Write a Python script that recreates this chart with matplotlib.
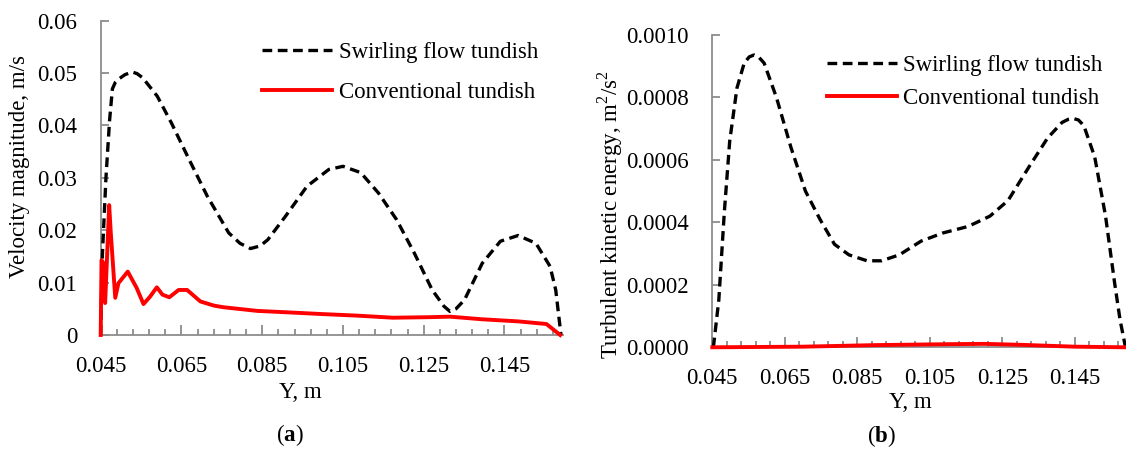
import numpy as np
import matplotlib
matplotlib.use("Agg")
import matplotlib.pyplot as plt
from matplotlib.ticker import MultipleLocator, FixedLocator, FuncFormatter

plt.rcParams['font.family'] = ['Liberation Serif', 'DejaVu Serif']
plt.rcParams['mathtext.fontset'] = 'custom'
plt.rcParams['mathtext.rm'] = 'Liberation Serif'
plt.rcParams['mathtext.bf'] = 'Liberation Serif:bold'
plt.rcParams['lines.scale_dashes'] = False

###Velocity magnitude, swirling flow tundish
y_swirl_v = [0.045, 0.0454, 0.0463, 0.0472, 0.0479, 0.0486, 0.0497, 0.051, 0.0528, 0.054,
             0.0554, 0.059, 0.0625, 0.0669, 0.0714, 0.0767, 0.0795, 0.0821, 0.0845, 0.0864,
             0.0908, 0.0961, 0.1015, 0.105, 0.1094, 0.1138, 0.1183, 0.1227, 0.1271, 0.1300,
             0.1315, 0.1330, 0.1351, 0.1395, 0.144, 0.1484, 0.1528, 0.1563, 0.1577, 0.159]
v_swirl = [0.0, 0.015, 0.030, 0.041, 0.0470, 0.0482, 0.0490, 0.0497, 0.0502, 0.0499,
           0.0491, 0.0456, 0.0405, 0.0335, 0.0265, 0.0195, 0.0175, 0.0165, 0.0170, 0.0182,
           0.0227, 0.0284, 0.0316, 0.0322, 0.031, 0.0271, 0.022, 0.0156, 0.0086, 0.0055,
           0.0045, 0.0050, 0.0067, 0.0137, 0.0179, 0.019, 0.0175, 0.0131, 0.0086, 0.0]

###Velocity magnitude, conventional tundish
y_conv_v = [0.045, 0.0452, 0.0457, 0.0461, 0.0471, 0.0475, 0.0486, 0.0494, 0.0517,
            0.0539, 0.0556, 0.0572, 0.0589, 0.0603, 0.062, 0.0643, 0.0664, 0.0697,
            0.0731, 0.0754, 0.0838, 0.092, 0.0997, 0.1085, 0.1174, 0.1262, 0.1315,
            0.1395, 0.1484, 0.1554, 0.1567, 0.1588]
v_conv = [0.0, 0.0143, 0.0137, 0.0061, 0.0248, 0.0195, 0.0071, 0.0099, 0.0121,
          0.009, 0.0059, 0.0073, 0.0091, 0.0077, 0.0072, 0.0086, 0.0086, 0.0064,
          0.0056, 0.0053, 0.0046, 0.0043, 0.004, 0.0037, 0.0033, 0.0034, 0.0035,
          0.003, 0.0026, 0.0021, 0.0013, 0.0]

###Turbulent kinetic energy, swirling flow tundish
y_swirl_k = [0.0453, 0.0468, 0.0483, 0.0498, 0.0518, 0.0538, 0.0552, 0.0565, 0.0579, 0.0593,
             0.0627, 0.0667, 0.0707, 0.0747, 0.0787, 0.0827, 0.0877, 0.0917, 0.0966, 0.1026,
             0.1086, 0.1156, 0.1216, 0.1266, 0.1325, 0.1375, 0.1415, 0.1432, 0.1445, 0.1460,
             0.1475, 0.1505, 0.1535, 0.156, 0.1575, 0.159]
k_swirl = [0.0, 0.000152, 0.00043, 0.00066, 0.00083, 0.00091, 0.00093, 0.000936, 0.000928, 0.00091,
           0.0008, 0.00064, 0.0005, 0.00041, 0.00033, 0.000296, 0.000277, 0.000277, 0.000296, 0.00034,
           0.000366, 0.000387, 0.00042, 0.00047, 0.00058, 0.00067, 0.00072, 0.00073, 0.000733, 0.000728,
           0.00071, 0.00061, 0.00042, 0.000206, 0.000088, 0.0]

###Turbulent kinetic energy, conventional tundish
y_conv_k = [0.045, 0.07, 0.09, 0.11, 0.12, 0.13, 0.145, 0.159]
k_conv = [0.0, 0.000002, 0.000007, 0.00001, 0.000011, 0.000008, 0.000002, 0.0]

xmin, xmax = 0.045, 0.1595
axis_grey = '#8c8c8c'
fs = 16.5

W, H = 1126, 453
fig = plt.figure(figsize=(W/100, H/100), dpi=100)

def px(x, y):
	#pixel position (from top left) to figure fraction
	return x/W, 1 - y/H

def style_axes(ax):
	for side in ['top', 'right']:
		ax.spines[side].set_visible(False)
	for side in ['left', 'bottom']:
		ax.spines[side].set_color(axis_grey)
		ax.spines[side].set_linewidth(1.3)
	ax.set_xlim(xmin, xmax)
	ax.xaxis.set_major_locator(FixedLocator([0.045, 0.065, 0.085, 0.105, 0.125, 0.145]))
	ax.xaxis.set_minor_locator(FixedLocator(np.arange(0.045, 0.1595, 0.004)))
	ax.xaxis.set_major_formatter(FuncFormatter(lambda v, p: '%.3f' % v))
	ax.tick_params(axis='x', which='major', direction='in', length=7, width=1.3,
				   color=axis_grey, pad=15, labelsize=fs)
	ax.tick_params(axis='x', which='minor', direction='in', length=4, width=1.3,
				   color=axis_grey)
	ax.tick_params(axis='y', which='major', direction='in', length=6, width=1.3,
				   color=axis_grey, pad=17, labelsize=fs)
	ax.patch.set_visible(False)

############### (a) Velocity magnitude ################

axa = fig.add_axes([100.7/W, 1-335/H, 462.3/W, 314.3/H])
style_axes(axa)
axa.set_ylim(0, 0.06)
axa.yaxis.set_major_locator(MultipleLocator(0.01))
axa.yaxis.set_major_formatter(FuncFormatter(lambda v, p: '0' if abs(v) < 1e-9 else '%.2f' % v))
axa.plot(y_swirl_v, v_swirl, color='black', lw=2.4, dashes=(7, 4),
		 label='Swirling flow tundish', clip_on=False, zorder=3)
axa.plot(y_conv_v, v_conv, color='#ff0000', lw=2.8, solid_joinstyle='round',
		 label='Conventional tundish', clip_on=False, zorder=4)
axa.legend(loc='upper left', bbox_to_anchor=px(262, 42), bbox_transform=fig.transFigure,
		   frameon=False, fontsize=fs, handlelength=3.06, handletextpad=0.28,
		   labelspacing=0.82, borderpad=0, borderaxespad=0)

############### (b) Turbulent kinetic energy ################

axb = fig.add_axes([712.3/W, 1-347.3/H, 415/W, 312.3/H])
style_axes(axb)
axb.set_ylim(0, 0.001)
axb.yaxis.set_major_locator(MultipleLocator(0.0002))
axb.yaxis.set_major_formatter(FuncFormatter(lambda v, p: '%.4f' % v))
axb.plot(y_swirl_k, k_swirl, color='black', lw=2.4, dashes=(7, 4),
		 label='Swirling flow tundish', clip_on=False, zorder=3)
axb.plot(y_conv_k, k_conv, color='#ff0000', lw=2.8,
		 label='Conventional tundish', clip_on=False, zorder=4)
axb.legend(loc='upper left', bbox_to_anchor=px(826.6, 55), bbox_transform=fig.transFigure,
		   frameon=False, fontsize=fs, handlelength=3.06, handletextpad=0.28,
		   labelspacing=0.5, borderpad=0, borderaxespad=0)

############### Axis labels and panel tags ################

fig.text(*px(19.6, 167), 'Velocity magnitude, m/s', rotation=90, ha='center', va='center', fontsize=fs)
fig.text(*px(610.3, 215), r'Turbulent kinetic energy, m$^{2}$/s$^{2}$', rotation=90,
		 ha='center', va='center', fontsize=fs)
fig.text(*px(300, 393), 'Y, m', ha='center', va='center', fontsize=fs)
fig.text(*px(910.5, 403), 'Y, m', ha='center', va='center', fontsize=fs)
fig.text(*px(290, 435), r'($\mathbf{a}$)', ha='center', va='center', fontsize=fs)
fig.text(*px(881.7, 436), r'($\mathbf{b}$)', ha='center', va='center', fontsize=fs)

fig.savefig('out.png', dpi=100)
